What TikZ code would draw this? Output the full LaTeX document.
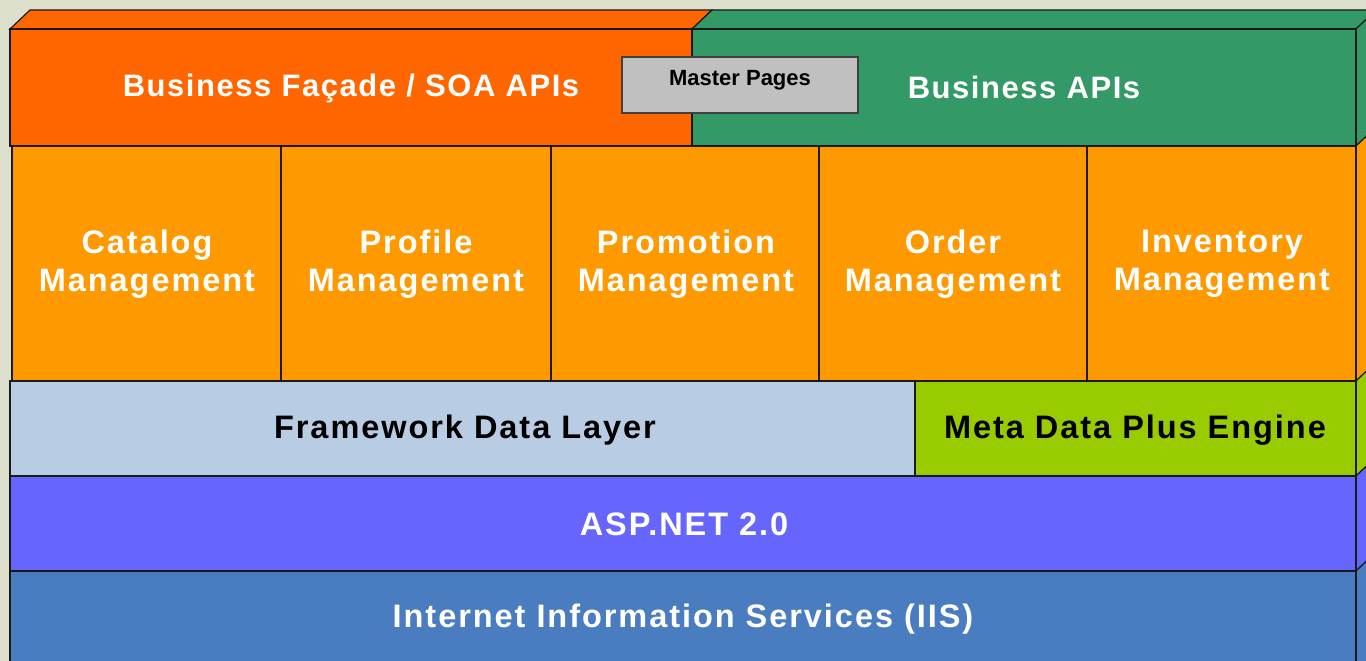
\documentclass[tikz,border=0pt]{standalone}
\usepackage{fontspec}
\setmainfont{Liberation Sans}
\newfontfamily\widefont[LetterSpace=6]{Liberation Sans}
\newfontfamily\midfont[LetterSpace=5]{Liberation Sans}
\definecolor{bgc}{RGB}{219,223,203}
\definecolor{facade}{HTML}{FF6600}
\definecolor{bapi}{HTML}{339966}
\definecolor{module}{HTML}{FF9900}
\definecolor{fdl}{HTML}{B8CCE4}
\definecolor{meta}{HTML}{99CC00}
\definecolor{aspc}{HTML}{6666FF}
\definecolor{iisc}{HTML}{4A7CC0}
\definecolor{mp}{HTML}{C0C0C0}
\definecolor{edge}{HTML}{1A1A1A}
\tikzset{
  face/.style={draw=edge, line width=1.2pt, line join=miter},
  lbl/.style={font=\widefont\bfseries\fontsize{32.5}{38}\selectfont, text=white, align=center, inner sep=0pt},
  toplbl/.style={lbl, font=\midfont\bfseries\fontsize{31}{38}\selectfont},
  lbldark/.style={lbl, text=black},
  mplbl/.style={font=\bfseries\fontsize{22}{24}\selectfont, text=black, inner sep=0pt}
}
\begin{document}
\begin{tikzpicture}[x=1pt,y=-1pt]
\useasboundingbox (0,0) rectangle (1366,661);
\fill[bgc] (0,0) rectangle (1366,661);
\clip (0,0) rectangle (1366,661);
% top faces
\draw[face, fill=facade] (10,29) -- (30,10) -- (712,10) -- (692,29) -- cycle;
\draw[face, fill=bapi] (692,29) -- (712,10) -- (1376,10) -- (1356,29) -- cycle;
% side faces
\draw[face, fill=bapi] (1356,29) -- (1376,10) -- (1376,127) -- (1356,146) -- cycle;
\draw[face, fill=module] (1356,146) -- (1376,127) -- (1376,362) -- (1356,381) -- cycle;
\draw[face, fill=meta] (1356,381) -- (1376,362) -- (1376,457) -- (1356,476) -- cycle;
\draw[face, fill=aspc] (1356,476) -- (1376,457) -- (1376,552) -- (1356,571) -- cycle;
\draw[face, fill=iisc] (1356,571) -- (1376,552) -- (1376,680) -- (1356,699) -- cycle;
% front faces
\draw[face, fill=facade] (10,29) rectangle (692,146);
\draw[face, fill=bapi] (692,29) rectangle (1356,146);
\draw[face, fill=module] (12,146) rectangle (281,381);
\draw[face, fill=module] (281,146) rectangle (551,381);
\draw[face, fill=module] (551,146) rectangle (819,381);
\draw[face, fill=module] (819,146) rectangle (1087,381);
\draw[face, fill=module] (1087,146) rectangle (1356,381);
\draw[face, fill=fdl] (10,381) rectangle (915,476);
\draw[face, fill=meta] (915,381) rectangle (1356,476);
\draw[face, fill=aspc] (10,476) rectangle (1356,571);
\draw[face, fill=iisc] (10,571) rectangle (1356,699);
% labels
\node[toplbl] (facadeL) at (351,88) {Business Façade / SOA APIs};
\node[toplbl] (bapiL) at (1024,87) {Business APIs};
\node[lbl] (catL) at (147,264) {Catalog\\Management};
\node[lbl] (profL) at (416,264) {Profile\\Management};
\node[lbl] (promL) at (686,264) {Promotion\\Management};
\node[lbl] (ordL) at (953,264) {Order\\Management};
\node[lbl] (invL) at (1222,264) {Inventory\\Management};
\node[lbldark] (fdlL) at (465,430) {Framework Data Layer};
\node[lbldark] (metaL) at (1135,430) {Meta Data Plus Engine};
\node[lbl] (aspL) at (684,524) {ASP.NET 2.0};
\node[lbl] (iisL) at (683,619) {Internet Information Services (IIS)};
% master pages
\draw[draw=black!75, line width=1.2pt, fill=mp] (622,57) rectangle (858,113);
\node[mplbl] (mpL) at (740,80) {Master Pages};
\end{tikzpicture}
\end{document}
